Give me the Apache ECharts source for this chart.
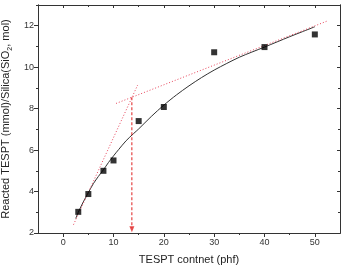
<!DOCTYPE html>
<html>
<head>
<meta charset="UTF-8">
<script src="https://cdn.jsdelivr.net/npm/echarts@6/dist/echarts.min.js"></script>
<style>html,body{margin:0;padding:0;background:#fff;}</style>
</head>
<body>
<div id="main" style="width:344px;height:267px;"></div>
<script>
    // measured points
    var contentX = [3, 5, 8, 10, 15, 20, 30, 40, 50];
    var reactedY = [3.02, 3.88, 5.0, 5.5, 7.4, 8.08, 10.72, 10.97, 11.58];

    // fitted curve
    var fitX = [2.5, 3, 4, 5, 6, 7, 8, 9, 10, 11, 12.5, 14, 15, 17.5, 20, 22.5, 25, 27.5, 30, 32.5, 35, 37.5, 40, 42.5, 45, 47.5, 50];
    var fitY = [2.7, 3.0, 3.5, 3.95, 4.38, 4.73, 5.05, 5.4, 5.72, 6.02, 6.45, 6.8, 7.02, 7.62, 8.17, 8.66, 9.1, 9.5, 9.86, 10.18, 10.48, 10.73, 10.97, 11.22, 11.47, 11.71, 11.95];

    // tangent lines (end points) and the crossing
    var steepX = [2.05, 14.8];
    var steepY = [2.4, 9.14];
    var flatX = [10.5, 52.6];
    var flatY = [8.25, 12.24];
    var crossX = 13.65, crossY = 8.55;
    var dropX = [crossX, crossX];
    var dropY = [crossY, 2.25];
    var arrowAt = [[crossX, 2.18]];

    var xLabels = [0, 10, 20, 30, 40, 50];
    var xMinor = [5, 15, 25, 35, 45];
    var yLabels = [2, 4, 6, 8, 10, 12];
    var yMinor = [3, 5, 7, 9, 11, 13];

    function pairs(xs, ys) {
        var res = [];
        for (var i = 0; i < xs.length; i++) res.push([xs[i], ys[i]]);
        return res;
    }

    var myChart = echarts.init(document.getElementById('main'));
    var lineCol = '#333';
    var red = '#e8445a';

    function xAx(pos, ticks, len, inside, showLabel) {
        return {
            type: 'value', min: -5, max: 55, position: pos,
            axisLine: {show: true, onZero: false, lineStyle: {color: lineCol, width: 1}},
            axisTick: {show: true, inside: inside, length: len, customValues: ticks, lineStyle: {color: lineCol}},
            axisLabel: {show: showLabel, customValues: xLabels, margin: 5, fontSize: 9, color: '#333', fontFamily: 'Liberation Sans'},
            splitLine: {show: false}
        };
    }
    function yAx(pos, ticks, len, inside, showLabel) {
        return {
            type: 'value', min: 2, max: 13, position: pos,
            axisLine: {show: true, onZero: false, lineStyle: {color: lineCol, width: 1}},
            axisTick: {show: true, inside: inside, length: len, customValues: ticks, lineStyle: {color: lineCol}},
            axisLabel: {show: showLabel, customValues: yLabels, margin: 4, fontSize: 9, color: '#333', fontFamily: 'Liberation Sans'},
            splitLine: {show: false}
        };
    }

    var xMain = xAx('bottom', xLabels, 4, false, true);
    xMain.name = 'TESPT contnet (phf)';
    xMain.nameLocation = 'middle';
    xMain.nameGap = 21;
    xMain.nameTextStyle = {fontSize: 11, color: '#222', fontFamily: 'Liberation Sans'};

    var yMain = yAx('left', yLabels, 4, false, true);
    yMain.name = 'Reacted TESPT (mmol)/Silica(SiO{s|2}, mol)';
    yMain.nameLocation = 'middle';
    yMain.nameGap = 23;
    yMain.nameTextStyle = {
        fontSize: 11, color: '#222', fontFamily: 'Liberation Sans',
        rich: {s: {fontSize: 7, verticalAlign: 'bottom', padding: [7, 0, 0, 0], color: '#222'}}
    };

    var option = {
        animation: false,
        backgroundColor: '#fff',
        grid: {left: 38, right: 4, top: 5, bottom: 34, containLabel: false, outerBoundsMode: 'none'},
        xAxis: [
            xMain,
            xAx('bottom', xMinor, 2, false, false),
            xAx('top', xLabels, 3, true, false),
            xAx('top', xMinor, 2, true, false)
        ],
        yAxis: [
            yMain,
            yAx('left', yMinor, 2, false, false),
            yAx('right', yLabels, 3, true, false),
            yAx('right', yMinor, 2, true, false)
        ],
        series: [
            {
                type: 'line', data: pairs(fitX, fitY), smooth: 0.3, showSymbol: false,
                lineStyle: {color: '#333', width: 1}, z: 2
            },
            {
                type: 'line', data: pairs(steepX, steepY), showSymbol: false,
                lineStyle: {color: red, width: 1, type: [1, 2]}, z: 3
            },
            {
                type: 'line', data: pairs(flatX, flatY), showSymbol: false,
                lineStyle: {color: red, width: 1, type: [1, 2]}, z: 3
            },
            {
                type: 'line', data: pairs(dropX, dropY), showSymbol: false,
                lineStyle: {color: '#e02020', width: 1, type: [3, 2]}, z: 3
            },
            {
                type: 'scatter', data: arrowAt, symbol: 'triangle', symbolRotate: 180, symbolSize: [5, 6],
                itemStyle: {color: '#e02020'}, z: 4
            },
            {
                type: 'scatter', data: pairs(contentX, reactedY), symbol: 'rect', symbolSize: 6,
                itemStyle: {color: '#000'}, z: 5
            }
        ]
    };

    myChart.setOption(option);
</script>
</body>
</html>
